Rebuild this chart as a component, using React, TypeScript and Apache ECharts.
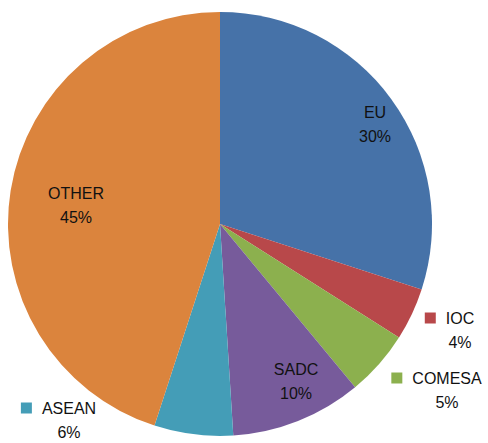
import React, { useEffect, useRef } from "react";
import * as echarts from "echarts";

const categories = ["EU", "IOC", "COMESA", "SADC", "ASEAN", "OTHER"];
const values = [30, 4, 5, 10, 6, 45];
const colors = ["#4672A8", "#B8484A", "#8CB04E", "#775B9B", "#449DB7", "#DB843D"];
const outsideKeys = ["IOC", "COMESA", "ASEAN"];

// label anchor points (text block centers)
const labelPos: Record<string, [number, number]> = {
  EU: [375, 124],
  IOC: [460, 330],
  COMESA: [447, 390],
  SADC: [296, 381],
  ASEAN: [69, 420],
  OTHER: [76, 205],
};

export default function App() {
  const ref = useRef<HTMLDivElement>(null);
  useEffect(() => {
    if (!ref.current) return;
    const chart = echarts.init(ref.current, null, { renderer: "svg" });
    const font = "'Liberation Sans', Arial, sans-serif";
    const data = categories.map((name, i) => {
      const outside = outsideKeys.includes(name);
      return {
        name,
        value: values[i],
        itemStyle: { color: colors[i] },
        label: outside
          ? {
              formatter: `{m|}{g|}{n|${name}}{s|}\n{n|${values[i]}%}`,
              rich: {
                m: { width: 11, height: 11, backgroundColor: colors[i] },
                g: { width: 10 },
                s: { width: 21 },
                n: { fontSize: 16, fontFamily: font, color: "#111", lineHeight: 24 },
              },
            }
          : { formatter: `${name}\n${values[i]}%` },
      };
    });
    chart.setOption({
      animation: false,
      series: [
        {
          type: "pie",
          center: [220, 224],
          radius: 212,
          startAngle: 90,
          clockwise: true,
          data,
          itemStyle: { borderWidth: 0 },
          emphasis: { disabled: true },
          labelLine: { show: false },
          label: {
            show: true,
            position: "inside",
            fontSize: 16,
            fontFamily: font,
            color: "#111",
            lineHeight: 24,
            align: "center",
          },
          labelLayout: (params: any) => {
            const p = labelPos[categories[params.dataIndex]];
            return { x: p[0], y: p[1], align: "center", verticalAlign: "middle" };
          },
        },
      ],
    });
    return () => chart.dispose();
  }, []);
  return (
    <div
      ref={ref}
      style={{ position: "fixed", left: 0, top: 0, width: 488, height: 443, background: "#fff" }}
    />
  );
}
